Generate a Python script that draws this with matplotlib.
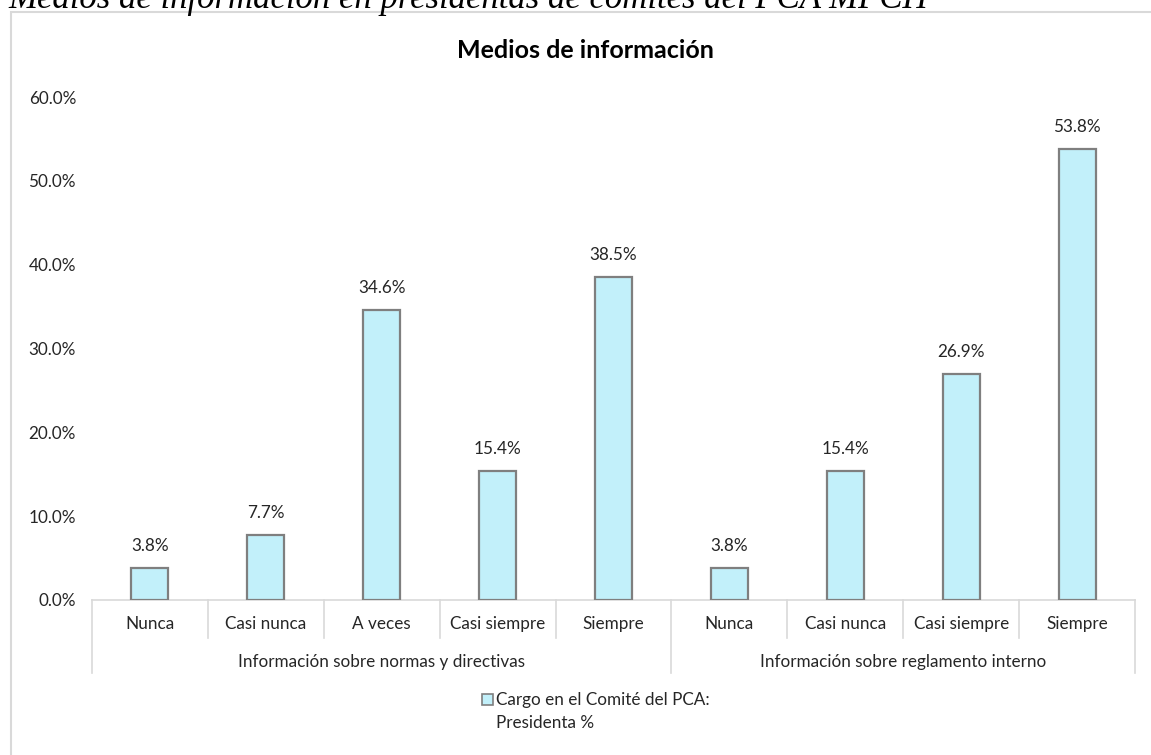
import matplotlib
matplotlib.use("Agg")
import matplotlib.pyplot as plt
from matplotlib.patches import Rectangle
from matplotlib.ticker import FuncFormatter
from matplotlib.transforms import blended_transform_factory

# Data
categories = ["Nunca", "Casi nunca", "A veces", "Casi siempre", "Siempre",
              "Nunca", "Casi nunca", "Casi siempre", "Siempre"]
groups = ["Información sobre normas y directivas",
          "Información sobre reglamento interno"]
group_sizes = [5, 4]
values = [3.8, 7.7, 34.6, 15.4, 38.5, 3.8, 15.4, 26.9, 53.8]
series_lines = ["Cargo en el Comité del PCA:", "Presidenta %"]
chart_title = "Medios de información"
caption = "Medios de información en presidentas de comités del PCA MPCH"
y_ticks = [0, 10, 20, 30, 40, 50, 60]

W, H = 1151, 755
plt.rcParams["font.family"] = ["Lato", "DejaVu Sans"]

fig = plt.figure(figsize=(W / 100, H / 100), dpi=100)

def fx(px):
    return px / W

def fy(py):
    return 1 - py / H

BAR_FACE = "#C2F0FA"
BAR_EDGE = "#7F7F7F"
AXIS_GRAY = "#D9D9D9"
TEXT = "#262626"
FS = 12.3

# Outer chart frame
fig.patches.append(Rectangle((fx(11), fy(800)), fx(1200), fy(12) - fy(800),
                             transform=fig.transFigure, fill=False,
                             edgecolor=AXIS_GRAY, linewidth=1.5))

# Caption above the frame
fig.text(fx(8), fy(7.5), caption, fontsize=25, style="italic",
         family=["Liberation Serif"], color="black", va="baseline", ha="left")

ax = fig.add_axes([fx(92), fy(600), fx(1135) - fx(92), fy(97) - fy(600)])
x = list(range(len(values)))
ax.bar(x, values, width=0.32, color=BAR_FACE, edgecolor=BAR_EDGE, linewidth=1.6,
       zorder=3)
ax.set_xlim(-0.5, len(values) - 0.5)
ax.set_ylim(0, 60)
ax.set_yticks(y_ticks)
ax.yaxis.set_major_formatter(FuncFormatter(lambda v, p: f"{v:.1f}%"))
ax.tick_params(axis="y", length=0, pad=11.5, labelsize=FS, labelcolor=TEXT)
ax.set_xticks([])
for s in ["top", "right", "left"]:
    ax.spines[s].set_visible(False)
ax.spines["bottom"].set_color(AXIS_GRAY)
ax.spines["bottom"].set_linewidth(1.2)

# Value labels
for xi, v in zip(x, values):
    ax.annotate(f"{v:.1f}%", (xi, v), xytext=(0, 16), textcoords="offset points",
                ha="center", va="center", fontsize=FS, color=TEXT)

# Two-level category axis
trans = blended_transform_factory(ax.transData, fig.transFigure)
bounds = []
pos = -0.5
for n in group_sizes:
    bounds.append(pos)
    pos += n
bounds.append(pos)
for b in [i - 0.5 for i in range(len(values) + 1)]:
    bottom = 673 if b in bounds else 638
    ax.plot([b, b], [fy(600), fy(bottom)], transform=trans, color=AXIS_GRAY,
            linewidth=1.2, clip_on=False)
for xi, c in zip(x, categories):
    ax.text(xi, fy(624), c, transform=trans, ha="center", va="center",
            fontsize=FS, color=TEXT)
start = 0
for g, n in zip(groups, group_sizes):
    ax.text(start + (n - 1) / 2, fy(662), g, transform=trans, ha="center",
            va="center", fontsize=FS, color=TEXT)
    start += n

# Chart title
fig.text(fx(585), fy(58), chart_title, ha="center", va="baseline",
         fontsize=18, fontweight="bold", color="black")

# Legend
fig.patches.append(Rectangle((fx(482), fy(705)), fx(11), fy(694) - fy(705),
                             transform=fig.transFigure, facecolor=BAR_FACE,
                             edgecolor=BAR_EDGE, linewidth=1.2))
fig.text(fx(496), fy(700), series_lines[0], ha="left", va="center",
         fontsize=FS, color=TEXT)
fig.text(fx(496), fy(723), series_lines[1], ha="left", va="center",
         fontsize=FS, color=TEXT)

fig.savefig("out.png", dpi=100, facecolor="white")
